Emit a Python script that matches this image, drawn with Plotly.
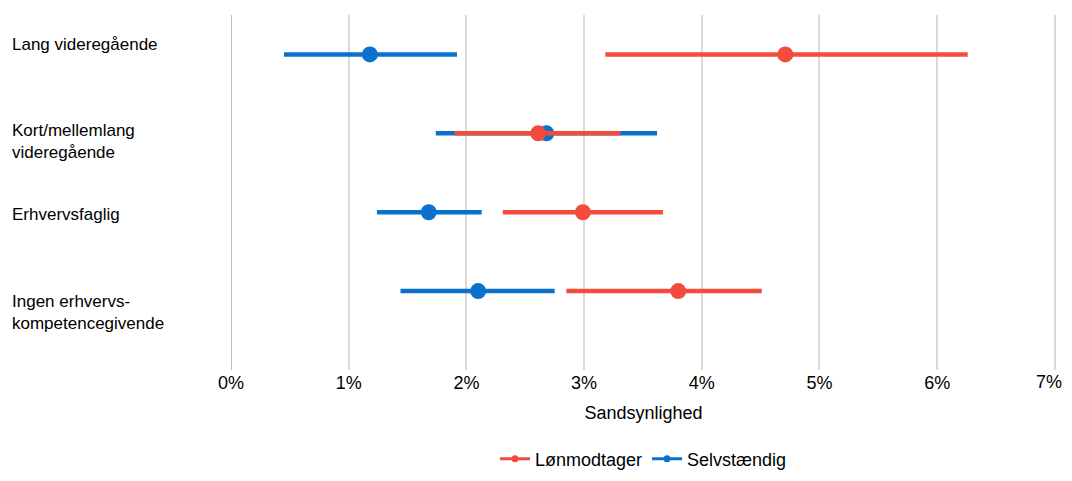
import plotly.graph_objects as go

categories = ["Lang videregående", "Kort/mellemlang<br>videregående", "Erhvervsfaglig", "Ingen erhvervs-<br>kompetencegivende"]
row_pos = [4, 3, 2, 1]
label_pos = [4.13, 2.9, 1.97, 0.73]

selv_est = [1.18, 2.68, 1.68, 2.10]
selv_lo = [0.45, 1.74, 1.24, 1.44]
selv_hi = [1.92, 3.62, 2.13, 2.75]

lon_est = [4.71, 2.61, 2.99, 3.80]
lon_lo = [3.18, 1.90, 2.31, 2.85]
lon_hi = [6.26, 3.31, 3.67, 4.51]

tick_vals = [0, 1, 2, 3, 4, 5, 6, 7]
tick_text = ["0%", "1%", "2%", "3%", "4%", "5%", "6%", "7%"]

RED = "#F44C3C"
BLUE = "#0A72CC"
FONT = "Liberation Sans, Arial, sans-serif"

fig = go.Figure()


def add_series(name, est, lo, hi, color, rank):
    xs, ys = [], []
    for l, h, y in zip(lo, hi, row_pos):
        xs += [l, h, None]
        ys += [y, y, None]
    fig.add_trace(go.Scatter(x=xs, y=ys, mode="lines", line=dict(color=color, width=4.5),
                             showlegend=False, hoverinfo="skip"))
    fig.add_trace(go.Scatter(x=est, y=row_pos, mode="markers",
                             marker=dict(color=color, size=16), showlegend=False, name=name))
    fig.add_trace(go.Scatter(x=[None], y=[None], mode="lines+markers", name=name,
                             line=dict(color=color, width=3), marker=dict(color=color, size=7),
                             legendrank=rank))


add_series("Selvstændig", selv_est, selv_lo, selv_hi, BLUE, 2)
add_series("Lønmodtager", lon_est, lon_lo, lon_hi, RED, 1)

for text, y in zip(categories, label_pos):
    fig.add_annotation(x=-0.268, xref="paper", y=y, yref="y", text=text, showarrow=False,
                       xanchor="left", yanchor="middle", align="left",
                       font=dict(family=FONT, size=17, color="#000000"))

# the last tick label is placed as an annotation so it stays inside the page
shown_ticks = tick_text[:-1] + [""]
fig.add_annotation(x=tick_vals[-1], xref="x", y=0, yref="paper", yanchor="middle", yshift=-12,
                   xanchor="right", xshift=9, text=tick_text[-1], showarrow=False,
                   font=dict(family=FONT, size=18, color="#000000"))

fig.update_layout(
    width=1064, height=465,
    margin=dict(l=223, r=16, t=7, b=103, autoexpand=False),
    paper_bgcolor="white", plot_bgcolor="white",
    font=dict(family=FONT, size=18, color="#000000"),
    showlegend=True,
    legend=dict(orientation="h", x=0.5, xanchor="center", xref="paper",
                y=0.03, yanchor="middle", yref="container",
                font=dict(family=FONT, size=18, color="#000000"),
                traceorder="normal"),
    xaxis=dict(range=[0, 7.01], tickvals=tick_vals, ticktext=shown_ticks, showgrid=True,
               gridcolor="#D9D9D9", gridwidth=1.5, zeroline=False, showline=False,
               ticks="", automargin=False,
               title=dict(text="Sandsynlighed", standoff=14,
                          font=dict(family=FONT, size=18)),
               tickfont=dict(family=FONT, size=18)),
    yaxis=dict(range=[0, 4.5], showticklabels=False, showgrid=False, zeroline=False,
               showline=False, fixedrange=True, automargin=False),
    shapes=[dict(type="line", xref="x", yref="paper", x0=0, x1=0, y0=0, y1=1,
                 line=dict(color="#BFBFBF", width=2), layer="below")],
)

fig.write_html("out.html")
